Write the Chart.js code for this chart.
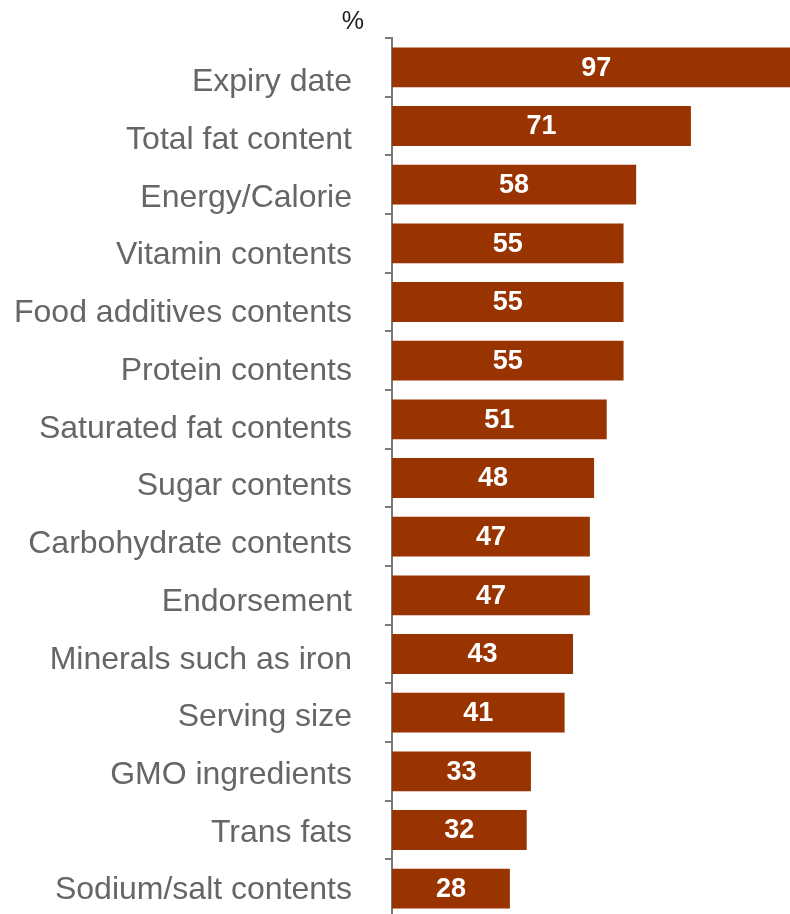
<!DOCTYPE html>
<html>
<head>
<meta charset="utf-8">
<title>Label information checked</title>
<script src="https://cdn.jsdelivr.net/npm/chart.js@4.4.1/dist/chart.umd.min.js"></script>
<style>
  html, body { margin: 0; padding: 0; background: #fff; overflow: hidden; }
  #wrap { position: absolute; left: 0; top: 0; width: 813px; height: 918px; }
</style>
</head>
<body>
<div id="wrap"><canvas id="barChart" width="813" height="918"></canvas></div>
<script>
// -------------------------
// Data
// -------------------------
const categories = [
  "Expiry date", "Total fat content", "Energy/Calorie", "Vitamin contents",
  "Food additives contents", "Protein contents", "Saturated fat contents",
  "Sugar contents", "Carbohydrate contents", "Endorsement",
  "Minerals such as iron", "Serving size", "GMO ingredients",
  "Trans fats", "Sodium/salt contents"
];
const shares = [97, 71, 58, 55, 55, 55, 51, 48, 47, 47, 43, 41, 33, 32, 28];
const unitLabel = "%";

const FONT = '"Liberation Sans", Arial, Helvetica, sans-serif';
const barColor = "#993300";
const axisColor = "#7a7a7a";

// -------------------------
// Plugins: category labels, value labels, unit
// -------------------------
// category names sit a little below their bar at the top and drift up to
// centre by the last row, so they are placed by hand from the scale pixels
const categoryLabels = {
  id: "categoryLabels",
  afterDraw(chart) {
    const ctx = chart.ctx;
    const y = chart.scales.y;
    const n = categories.length;
    const first = y.getPixelForValue(0) + 15;
    const last = y.getPixelForValue(n - 1) + 2;
    ctx.save();
    ctx.font = "32px " + FONT;
    ctx.fillStyle = "#666666";
    ctx.textAlign = "right";
    ctx.textBaseline = "middle";
    categories.forEach((name, i) => {
      ctx.fillText(name, y.right - 40, first + (last - first) * i / (n - 1));
    });
    ctx.restore();
  }
};

const valueLabels = {
  id: "valueLabels",
  afterDatasetsDraw(chart) {
    const ctx = chart.ctx;
    const meta = chart.getDatasetMeta(0);
    ctx.save();
    ctx.font = "bold 27px " + FONT;
    ctx.fillStyle = "#ffffff";
    ctx.textAlign = "center";
    ctx.textBaseline = "middle";
    meta.data.forEach((bar, i) => {
      ctx.fillText(String(shares[i]), (bar.base + bar.x) / 2, bar.y + 1);
    });
    ctx.restore();
  }
};

const unitText = {
  id: "unitText",
  afterDraw(chart) {
    const ctx = chart.ctx;
    ctx.save();
    ctx.font = "25px " + FONT;
    ctx.fillStyle = "#1a1a1a";
    ctx.textAlign = "right";
    ctx.textBaseline = "middle";
    ctx.fillText(unitLabel, 364, 22);
    ctx.restore();
  }
};

// -------------------------
// Chart
// -------------------------
new Chart(document.getElementById("barChart").getContext("2d"), {
  type: "bar",
  data: {
    labels: categories,
    datasets: [{
      data: shares,
      backgroundColor: barColor,
      borderWidth: 0,
      barPercentage: 0.68,
      categoryPercentage: 1
    }]
  },
  options: {
    indexAxis: "y",
    responsive: false,
    animation: false,
    devicePixelRatio: 1,
    layout: { padding: { top: 38, right: 0, bottom: 0, left: 0 } },
    plugins: {
      legend: { display: false },
      tooltip: { enabled: false }
    },
    scales: {
      x: {
        display: false,
        min: 0,
        max: 100
      },
      y: {
        offset: true,
        afterFit(scale) {
          // fixed gutter for the labels, no extra room above/below
          scale.width = 392;
          scale.paddingTop = 0;
          scale.paddingBottom = 0;
        },
        border: { color: axisColor, width: 2 },
        grid: {
          offset: true,
          drawOnChartArea: false,
          tickLength: 7,
          color: axisColor,
          lineWidth: 2
        },
        ticks: {
          color: "rgba(0,0,0,0)",
          font: { family: FONT, size: 32 },
          padding: 33,
          autoSkip: false
        }
      }
    }
  },
  plugins: [valueLabels, categoryLabels, unitText]
});
</script>
</body>
</html>
